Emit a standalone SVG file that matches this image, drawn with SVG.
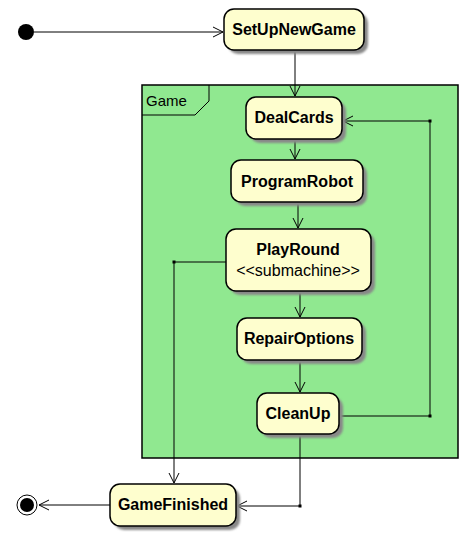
<svg xmlns="http://www.w3.org/2000/svg" width="470" height="542" viewBox="0 0 470 542">
<style>
.st{fill:#FEFECE;stroke:#000;stroke-width:1.5}
.sh{fill:#888;filter:url(#blur)}
.t{font-family:"Liberation Sans",Arial,sans-serif;font-size:16px;font-weight:bold;fill:#000;text-anchor:middle}
.n{font-family:"Liberation Sans",Arial,sans-serif;font-size:16px;fill:#000;text-anchor:middle}
.c{fill:none;stroke:#000;stroke-width:1}
</style>
<defs>
<filter id="blur" x="-20%" y="-20%" width="140%" height="140%"><feGaussianBlur stdDeviation="1.2"/></filter>
<marker id="ah" markerWidth="12" markerHeight="12" refX="10" refY="5" orient="auto" markerUnits="userSpaceOnUse" viewBox="0 0 12 10">
<path d="M0,0 L10,5 L0,10" fill="none" stroke="#000" stroke-width="1"/>
</marker>
</defs>
<g id="frame-Game">
<rect x="142" y="85" width="316" height="373" fill="#90E890" stroke="#000" stroke-width="1.5"/>
<path d="M142,115 L195,115 L209,101 L209,85" fill="none" stroke="#000" stroke-width="1"/>
<text x="146" y="106" font-family="Liberation Sans,Arial,sans-serif" font-size="15">Game</text>
</g>
<g id="connectors">
<line class="c" x1="34" y1="32" x2="223" y2="32" marker-end="url(#ah)"/>
<line class="c" x1="295" y1="50" x2="295" y2="96" marker-end="url(#ah)"/>
<line class="c" x1="295" y1="139" x2="295" y2="159" marker-end="url(#ah)"/>
<line class="c" x1="298" y1="202" x2="298" y2="228" marker-end="url(#ah)"/>
<line class="c" x1="300" y1="291" x2="300" y2="317" marker-end="url(#ah)"/>
<line class="c" x1="300" y1="360" x2="300" y2="392" marker-end="url(#ah)"/>
<polyline class="c" points="339,416 430,416 430,121 343,121" marker-end="url(#ah)"/>
<polyline class="c" points="300,434 300,506 237,506" marker-end="url(#ah)"/>
<polyline class="c" points="226,262 174,262 174,483" marker-end="url(#ah)"/>
<line class="c" x1="110" y1="505" x2="39" y2="505" marker-end="url(#ah)"/>
<rect x="428.5" y="414.5" width="3" height="3" fill="#000"/>
<rect x="428.5" y="119.5" width="3" height="3" fill="#000"/>
<rect x="298.5" y="504.5" width="3" height="3" fill="#000"/>
<rect x="172.5" y="260.5" width="3" height="3" fill="#000"/>
</g>
<g id="initial">
<circle cx="26" cy="32" r="8" fill="#000"/>
</g>
<g id="SetUpNewGame">
<rect class="sh" x="228" y="13" width="140" height="41" rx="10"/>
<rect class="st" x="224" y="9" width="140" height="41" rx="10"/>
<text class="t" x="294" y="35">SetUpNewGame</text>
</g>
<g id="DealCards">
<rect class="sh" x="250" y="101" width="96" height="42" rx="10"/>
<rect class="st" x="246" y="97" width="96" height="42" rx="10"/>
<text class="t" x="294" y="123">DealCards</text>
</g>
<g id="ProgramRobot">
<rect class="sh" x="235" y="164" width="132" height="42" rx="10"/>
<rect class="st" x="231" y="160" width="132" height="42" rx="10"/>
<text class="t" x="297" y="187">ProgramRobot</text>
</g>
<g id="PlayRound">
<rect class="sh" x="230" y="233" width="145" height="62" rx="10"/>
<rect class="st" x="226" y="229" width="145" height="62" rx="10"/>
<text class="t" x="298" y="255">PlayRound</text>
<text class="n" x="298" y="276">&lt;&lt;submachine&gt;&gt;</text>
</g>
<g id="RepairOptions">
<rect class="sh" x="241" y="322" width="125" height="42" rx="10"/>
<rect class="st" x="237" y="318" width="125" height="42" rx="10"/>
<text class="t" x="299" y="344">RepairOptions</text>
</g>
<g id="CleanUp">
<rect class="sh" x="261" y="397" width="82" height="41" rx="10"/>
<rect class="st" x="257" y="393" width="82" height="41" rx="10"/>
<text class="t" x="298" y="419">CleanUp</text>
</g>
<g id="GameFinished">
<rect class="sh" x="114" y="488" width="126" height="42" rx="10"/>
<rect class="st" x="110" y="484" width="126" height="42" rx="10"/>
<text class="t" x="173" y="510">GameFinished</text>
</g>
<g id="final">
<circle cx="27" cy="505" r="10" fill="#fff" stroke="#000" stroke-width="1"/>
<circle cx="27" cy="505" r="7" fill="#000"/>
</g>
</svg>
